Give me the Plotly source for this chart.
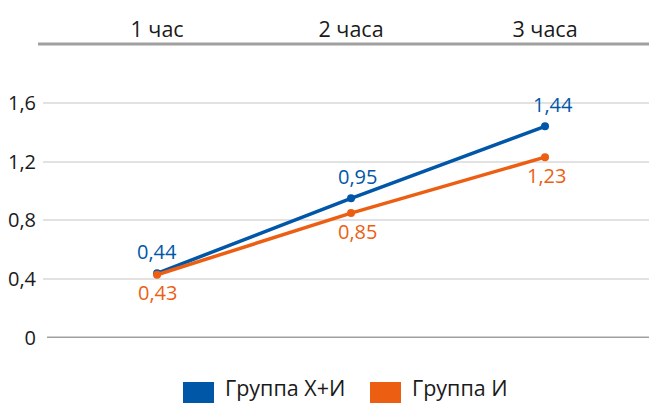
import plotly.graph_objects as go

categories = ["1 час", "2 часа", "3 часа"]
group_xi = [0.44, 0.95, 1.44]
group_i = [0.43, 0.85, 1.23]
series_names = ["Группа Х+И", "Группа И"]
y_ticks = [0, 0.4, 0.8, 1.2, 1.6]

BLUE = "#0057a8"
ORANGE = "#ec5f13"
GREY = "#a0a0a0"
FONT = "Open Sans"
FS = 20
FS_TEXT = 21.5

W, H = 649, 403
ML, MR, MT, MB = 43, 0, 44, 65
PW, PH = W - ML - MR, H - MT - MB

x_idx = list(range(len(categories)))


def fmt(v):
    return f"{v:.2f}".replace(".", ",")


def px_x(p):
    return (p - ML) / PW


def px_y(p):
    return (H - MB - p) / PH


fig = go.Figure()
for vals, color, name in [(group_xi, BLUE, series_names[0]), (group_i, ORANGE, series_names[1])]:
    fig.add_trace(go.Scatter(
        x=x_idx, y=vals, mode="lines+markers",
        line=dict(color=color, width=3.5), marker=dict(size=8, color=color),
        name=name, showlegend=False, cliponaxis=False,
    ))

# value labels: Х+И above its points, И below
label_xshift_xi = [0, 6, 8]
label_xshift_i = [0, 6, 1]
for i, v in enumerate(group_xi):
    fig.add_annotation(x=x_idx[i], y=v, text=fmt(v), showarrow=False,
                       xshift=label_xshift_xi[i], yshift=22,
                       font=dict(size=FS, family=FONT, color=BLUE))
for i, v in enumerate(group_i):
    fig.add_annotation(x=x_idx[i], y=v, text=fmt(v), showarrow=False,
                       xshift=label_xshift_i[i], yshift=-18,
                       font=dict(size=FS, family=FONT, color=ORANGE))

# top rule under the category labels and the baseline at zero
fig.add_shape(type="line", xref="paper", yref="paper",
              x0=px_x(38), x1=1, y0=1, y1=1, line=dict(color=GREY, width=3))
fig.add_shape(type="line", xref="paper", yref="y",
              x0=px_x(47), x1=1, y0=0, y1=0, line=dict(color=GREY, width=3))

# legend drawn as square swatches with labels below the plot
legend_items = [(series_names[0], BLUE, 183), (series_names[1], ORANGE, 370)]
for name, color, px in legend_items:
    fig.add_shape(type="rect", xref="paper", yref="paper",
                  x0=px_x(px), x1=px_x(px + 31),
                  y0=px_y(382), y1=px_y(404),
                  fillcolor=color, line=dict(width=0))
    fig.add_annotation(xref="paper", yref="paper",
                       x=px_x(px + 40), y=px_y(387),
                       text=name, showarrow=False, xanchor="left", yanchor="middle",
                       font=dict(size=FS_TEXT, family=FONT, color="#1a1a1a"))

fig.update_layout(
    width=W, height=H,
    margin=dict(l=ML, r=MR, t=MT, b=MB),
    plot_bgcolor="white", paper_bgcolor="white",
    font=dict(family=FONT, size=FS, color="#1a1a1a"),
    xaxis=dict(
        tickmode="array", tickvals=x_idx, ticktext=categories,
        side="top", range=[-0.588, 2.536],
        showline=False, showgrid=False, zeroline=False, ticks="",
        ticklabelstandoff=2,
        tickfont=dict(size=FS_TEXT, family=FONT, color="#1a1a1a"),
    ),
    yaxis=dict(
        range=[0, 2.0], tickvals=y_ticks,
        ticktext=[("0" if v == 0 else f"{v:.1f}".replace(".", ",")) for v in y_ticks],
        showgrid=True, gridcolor="#e2e2e2", gridwidth=1.5,
        zeroline=False, showline=False, ticks="", ticklabelstandoff=6,
        tickfont=dict(size=FS, family=FONT, color="#1a1a1a"),
    ),
)

fig.write_html("out.html")
